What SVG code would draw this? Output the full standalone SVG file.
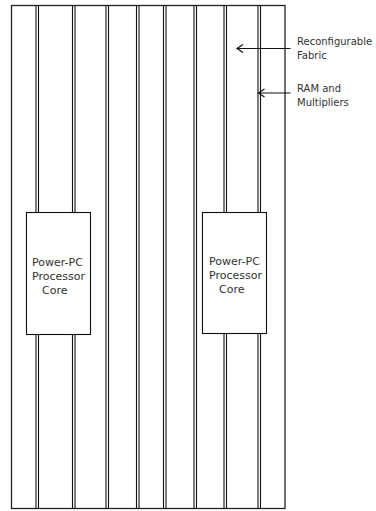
<svg xmlns="http://www.w3.org/2000/svg" width="376" height="511" viewBox="0 0 376 511">
<defs>
<style>
.frame{fill:#fff;stroke:#222;stroke-width:1.3}
.v{stroke:#111;stroke-width:1.1;fill:none}
.box{fill:#fff;stroke:#111;stroke-width:1.1}
.t{font-family:"DejaVu Sans",sans-serif;font-size:11px;fill:#333}
.lbl{font-family:"DejaVu Sans",sans-serif;font-size:10px;fill:#333}
.arr{stroke:#111;stroke-width:1.2;fill:none}
</style>
</defs>
<rect width="376" height="511" fill="#fff"/>
<g id="fabric">
<rect class="frame" x="11.5" y="5.5" width="273.5" height="503"/>
<g class="v">
<line x1="36" y1="5.5" x2="36" y2="508.5"/><line x1="38.5" y1="5.5" x2="38.5" y2="508.5"/>
<line x1="72.5" y1="5.5" x2="72.5" y2="508.5"/><line x1="75" y1="5.5" x2="75" y2="508.5"/>
<line x1="106" y1="5.5" x2="106" y2="508.5"/><line x1="108.5" y1="5.5" x2="108.5" y2="508.5"/>
<line x1="136.5" y1="5.5" x2="136.5" y2="508.5"/><line x1="139" y1="5.5" x2="139" y2="508.5"/>
<line x1="163.5" y1="5.5" x2="163.5" y2="508.5"/><line x1="166" y1="5.5" x2="166" y2="508.5"/>
<line x1="194" y1="5.5" x2="194" y2="508.5"/><line x1="196.5" y1="5.5" x2="196.5" y2="508.5"/>
<line x1="224" y1="5.5" x2="224" y2="508.5"/><line x1="226.5" y1="5.5" x2="226.5" y2="508.5"/>
<line x1="258" y1="5.5" x2="258" y2="508.5"/><line x1="260.5" y1="5.5" x2="260.5" y2="508.5"/>
</g>
</g>
<g id="ppc-left">
<rect class="box" x="26.5" y="212.5" width="64" height="122"/>
<text class="t" x="32" y="266">Power-PC</text>
<text class="t" x="32" y="280">Processor</text>
<text class="t" x="42" y="294">Core</text>
</g>
<g id="ppc-right">
<rect class="box" x="202.5" y="212.5" width="64" height="121"/>
<text class="t" x="209" y="265">Power-PC</text>
<text class="t" x="209" y="279">Processor</text>
<text class="t" x="219" y="293">Core</text>
</g>
<g id="label-fabric">
<text class="lbl" x="297" y="45">Reconfigurable</text>
<text class="lbl" x="297" y="59">Fabric</text>
</g>
<g id="label-ram">
<text class="lbl" x="297" y="92">RAM and</text>
<text class="lbl" x="297" y="106">Multipliers</text>
</g>
<g id="connectors">
<line class="arr" x1="237" y1="48.5" x2="290.5" y2="48.5"/>
<polyline class="arr" points="243,44.5 237,48.5 243,52.5"/>
<line class="arr" x1="258.5" y1="93" x2="290.5" y2="93"/>
<polyline class="arr" points="264.5,89 258.5,93 264.5,97"/>
</g>
</svg>
